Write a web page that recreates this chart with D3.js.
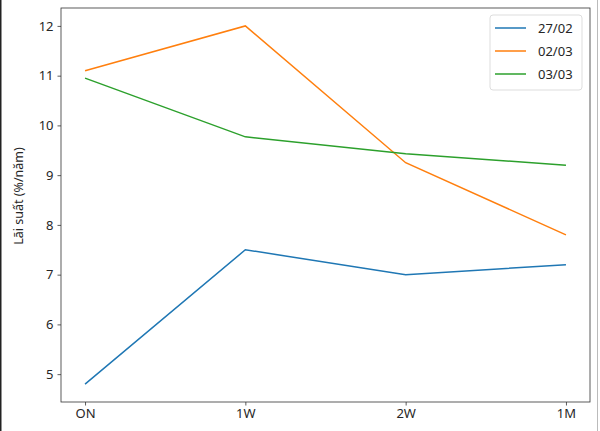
<!DOCTYPE html>
<html>
<head>
<meta charset="utf-8">
<script src="https://cdn.jsdelivr.net/npm/d3@7"></script>
<style>
  body { margin: 0; background: #fff; }
  text { font-family: "Noto Sans", sans-serif; fill: #262626; }
</style>
</head>
<body>
<div id="chart"></div>
<script>
// data
var terms = ["ON", "1W", "2W", "1M"];
var seriesNames = ["27/02", "02/03", "03/03"];
var rate2702 = [4.8, 7.5, 7.0, 7.2];
var rate0203 = [11.1, 12.0, 9.25, 7.8];
var rate0303 = [10.95, 9.77, 9.43, 9.2];
var yTicks = [5, 6, 7, 8, 9, 10, 11, 12];
var colors = ["#1f77b4", "#ff7f0e", "#2ca02c"];

var w = 600, h = 431;
var margin = {left: 61, right: 10, top: 8, bottom: 29};
var fs = "13px";

var svg = d3.select("#chart").append("svg")
    .attr("width", w)
    .attr("height", h);

// image border like the screenshot
svg.append("rect").attr("x", 0).attr("y", 0).attr("width", 1.5).attr("height", h).attr("fill", "#222");
svg.append("rect").attr("x", 597).attr("y", 0).attr("width", 1).attr("height", h).attr("fill", "#bbb");

var series = [rate2702, rate0203, rate0303];

var x = d3.scaleLinear()
    .domain([-0.15, terms.length - 1 + 0.15])
    .range([margin.left, w - margin.right]);

var allVals = d3.merge(series);
var ymin = d3.min(allVals), ymax = d3.max(allVals);
var pad = (ymax - ymin) * 0.05;
var y = d3.scaleLinear()
    .domain([ymin - pad, ymax + pad])
    .range([h - margin.bottom, margin.top]);

// x axis
var xAxis = d3.axisBottom(x)
    .tickValues(d3.range(terms.length))
    .tickFormat(function(i) { return terms[i]; })
    .tickSize(3.5).tickPadding(3);
var gx = svg.append("g")
    .attr("transform", "translate(0," + (h - margin.bottom) + ")")
    .call(xAxis);

var yAxis = d3.axisLeft(y)
    .tickValues(yTicks)
    .tickSize(3.5).tickPadding(4);
var gy = svg.append("g")
    .attr("transform", "translate(" + margin.left + ",0)")
    .call(yAxis);

[gx, gy].forEach(function(g) {
  g.select(".domain").remove();
  g.selectAll("line").attr("stroke", "#333").attr("stroke-width", 0.8);
  g.selectAll("text").style("font-size", fs).attr("fill", "#262626").attr("font-family", null);
});

// frame
svg.append("rect")
    .attr("x", margin.left)
    .attr("y", margin.top)
    .attr("width", w - margin.right - margin.left)
    .attr("height", h - margin.bottom - margin.top)
    .attr("fill", "none")
    .attr("stroke", "#333")
    .attr("stroke-width", 0.8);

// y label
svg.append("text")
    .attr("transform", "translate(18,196) rotate(-90)")
    .attr("text-anchor", "middle")
    .attr("dominant-baseline", "central")
    .style("font-size", "12.5px")
    .text("Lãi suất (%/năm)");

var line = d3.line()
    .x(function(d, i) { return x(i); })
    .y(function(d) { return y(d); });

svg.selectAll(".series")
    .data(series)
    .enter()
    .append("path")
    .attr("class", "series")
    .attr("d", line)
    .attr("fill", "none")
    .attr("stroke", function(d, i) { return colors[i]; })
    .attr("stroke-width", 1.5);

// legend
var lg = svg.append("g").attr("transform", "translate(490,15)");
lg.append("rect")
    .attr("width", 92).attr("height", 75)
    .attr("rx", 3)
    .attr("fill", "#fff").attr("fill-opacity", 0.8)
    .attr("stroke", "#ddd");
seriesNames.forEach(function(name, i) {
  var yy = 13 + i * 23;
  lg.append("line")
    .attr("x1", 5).attr("x2", 36)
    .attr("y1", yy).attr("y2", yy)
    .attr("stroke", colors[i]).attr("stroke-width", 1.5);
  lg.append("text")
    .attr("x", 48).attr("y", yy)
    .attr("dominant-baseline", "central")
    .style("font-size", fs)
    .text(name);
});
</script>
</body>
</html>
